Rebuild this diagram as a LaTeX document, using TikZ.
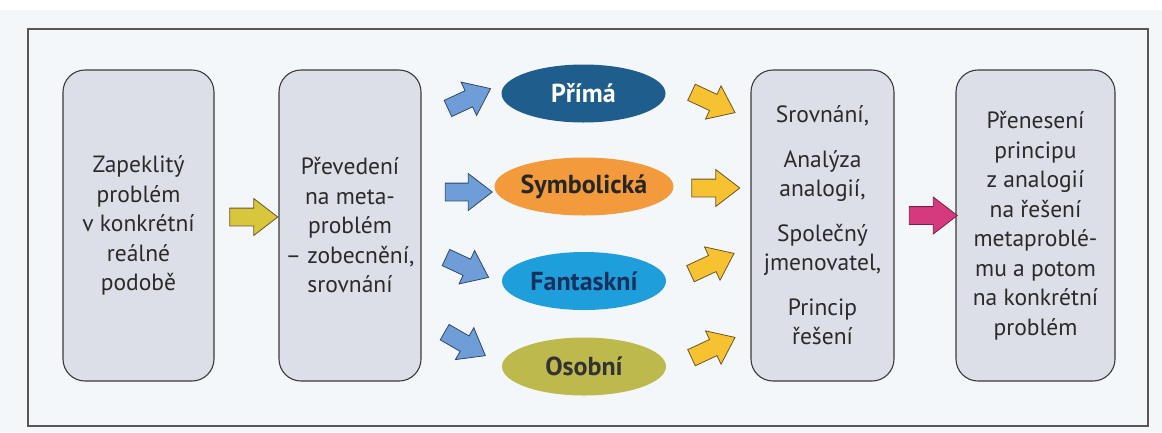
\documentclass[tikz,border=0pt]{standalone}
\usepackage{fontspec}
\setmainfont{PT Sans}
\usetikzlibrary{shapes.arrows,shapes.geometric}
\definecolor{bg}{HTML}{F4F7FA}
\definecolor{framec}{HTML}{5A5550}
\definecolor{boxfill}{HTML}{DCDFE8}
\definecolor{boxline}{HTML}{3C3A3A}
\definecolor{txt}{HTML}{2A2A2A}
\definecolor{ePrima}{HTML}{1F5E8C}
\definecolor{eSymb}{HTML}{F39A3C}
\definecolor{eFant}{HTML}{1E9FDC}
\definecolor{eOsob}{HTML}{BDB94C}
\definecolor{tFant}{HTML}{17305C}
\definecolor{aBlue}{HTML}{6E9DD8}
\definecolor{aBlueL}{HTML}{2C4870}
\definecolor{aYel}{HTML}{F6C232}
\definecolor{aYelL}{HTML}{6A5628}
\definecolor{aOlive}{HTML}{D8C63C}
\definecolor{aPink}{HTML}{D63A7E}
\definecolor{aPinkL}{HTML}{7A2040}
\tikzset{
  bigbox/.style={draw=boxline, fill=boxfill, line width=1.1pt, rounded corners=22pt,
    minimum height=311pt, align=center, text=txt, inner sep=0pt,
    font=\fontsize{23.5}{29.5}\selectfont},
  oval/.style={ellipse, minimum width=164pt, minimum height=58pt, inner sep=0pt,
    font=\bfseries\fontsize{26}{28}\selectfont},
  barrow/.style={single arrow, line width=0.8pt, minimum height=48pt, inner sep=0pt,
    inner ysep=8.5pt, single arrow head extend=9.5pt, single arrow tip angle=75},
  bluearrow/.style={barrow, draw=aBlueL, fill=aBlue, minimum height=47pt},
  yelarrow/.style={barrow, draw=aYelL, fill=aYel, minimum height=48pt}
}
\begin{document}
\begin{tikzpicture}[x=1pt,y=-1pt]
\useasboundingbox (0,0) rectangle (1162,432);
\fill[white] (0,0) rectangle (1162,432);
\fill[bg] (0,10) rectangle (1162,432);
\draw[framec, line width=1.3pt] (28,29) rectangle (1148,426);

\node[bigbox, minimum width=151pt] (b1) at (138.5,225.5)
  {Zapeklitý\\problém\\v konkrétní\\reálné\\podobě};
\node[bigbox, minimum width=142pt] (b2) at (350,225.5)
  {Převedení\\na meta-\\problém\\– zobecnění,\\srovnání};
\node[bigbox, minimum width=143pt] (b3) at (822.5,225.5)
  {Srovnání,\\[15pt]Analýza\\analogií,\\[15pt]Společný\\jmenovatel,\\[15pt]Princip\\řešení};
\node[bigbox, minimum width=159pt] (b4) at (1035.5,225.5)
  {Přenesení\\principu\\z analogií\\na řešení\\metaproblé-\\mu a potom\\na konkrétní\\problém};

\node[oval, fill=ePrima, text=white] (e1) at (583.5,93.5) {Přímá};
\node[oval, fill=eSymb, text=black!85] (e2) at (584,186.5) {Symbolická};
\node[oval, fill=eFant, text=tFant] (e3) at (584,281) {Fantaskní};
\node[oval, fill=eOsob, text=black!80] (e4) at (584,366.5) {Osobní};

\node[barrow, draw=aYelL, fill=aOlive] (a0) at (248,217) {};
\node[barrow, draw=aPinkL, fill=aPink] (a5) at (927.5,215.5) {};

\node[bluearrow, rotate=25] (l1) at (464,101) {};
\node[bluearrow] (l2) at (463,192) {};
\node[bluearrow, rotate=-25] (l3) at (462,265) {};
\node[bluearrow, rotate=-30] (l4) at (460,341) {};

\node[yelarrow, rotate=-25] (r1) at (708,100) {};
\node[yelarrow] (r2) at (710,188) {};
\node[yelarrow, rotate=25] (r3) at (707,266) {};
\node[yelarrow, rotate=25] (r4) at (708,350) {};
\end{tikzpicture}
\end{document}
